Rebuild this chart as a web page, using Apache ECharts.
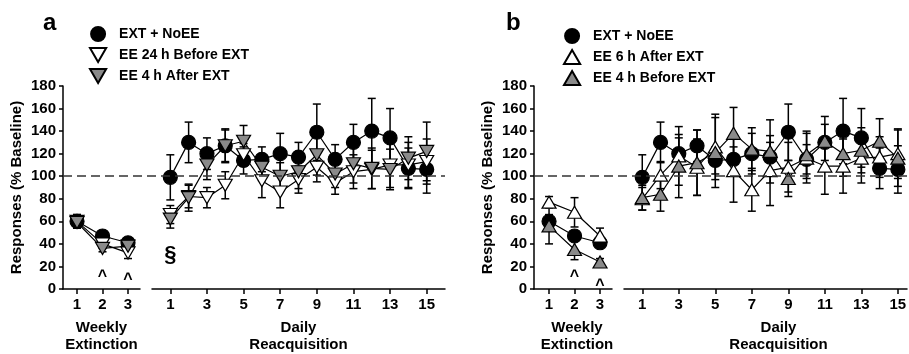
<!DOCTYPE html>
<html lang="en">
<head>
    <meta charset="UTF-8">
    <title>Responses (% Baseline)</title>
    <script src="https://cdn.jsdelivr.net/npm/echarts@6/dist/echarts.min.js"></script>
    <style>
        html, body { margin: 0; padding: 0; background: #fff; }
    </style>
</head>
<body>
    <div id="main" style="width: 909px; height: 354px;"></div>
    <script>
        // x positions
        var weeks = [1, 2, 3];
        var days = [1, 2, 3, 4, 5, 6, 7, 8, 9, 10, 11, 12, 13, 14, 15];
        var weekTicks = [1, 2, 3];
        var dayTicks = [1, 3, 5, 7, 9, 11, 13, 15];

        // EXT + NoEE (same group in both panels)
        var noEEWeekly = [60, 47, 41];
        var noEEWeeklySE = [6, 3, 4];
        var noEEDaily = [99, 130, 120, 127, 114, 115, 120, 117, 139, 115, 130, 140, 134, 107, 106];
        var noEEDailySE = [20, 18, 14, 14, 12, 11, 18, 13, 25, 13, 16, 29, 26, 18, 21];

        // panel a
        var ee24BeforeWeekly = [60, 40, 32];
        var ee24BeforeWeeklySE = [6, 4, 5];
        var ee24BeforeDaily = [66, 82, 81, 92, 119, 96, 86, 97, 108, 94, 104, 106, 110, 110, 113];
        var ee24BeforeDailySE = [8, 10, 9, 12, 10, 15, 14, 12, 13, 10, 15, 17, 20, 20, 20];
        var ee4AfterWeekly = [59, 36, 38];
        var ee4AfterWeeklySE = [5, 3, 4];
        var ee4AfterDaily = [62, 81, 110, 127, 131, 108, 100, 104, 119, 102, 111, 107, 106, 116, 122];
        var ee4AfterDailySE = [8, 12, 13, 15, 14, 12, 12, 15, 18, 12, 17, 18, 18, 19, 26];

        // panel b
        var ee6AfterWeekly = [77, 68, 47];
        var ee6AfterWeeklySE = [5, 13, 7];
        var ee6AfterDaily = [80, 101, 118, 108, 126, 105, 88, 105, 108, 116, 109, 109, 116, 117, 120];
        var ee6AfterDailySE = [10, 12, 26, 25, 29, 28, 19, 31, 22, 22, 25, 24, 22, 18, 22];
        var ee4BeforeWeekly = [56, 35, 24];
        var ee4BeforeWeeklySE = [16, 9, 3];
        var ee4BeforeDaily = [81, 84, 109, 112, 121, 138, 124, 122, 98, 119, 131, 120, 123, 131, 116];
        var ee4BeforeDailySE = [11, 15, 28, 29, 31, 23, 19, 28, 16, 21, 22, 20, 20, 20, 25];

        // significance marks
        var caretWeeks = [2, 3];
        var caretA = [11, 8];
        var caretB = [11, 3];
        var sectionDay = [1];
        var sectionA = [30];

        var baseline = 100;

        var FONT = '"Liberation Sans", Arial, sans-serif';
        var GREY = '#8a8a8a';
        var triDown = 'path://M0,0L10,0L5,8.66Z';
        var triUp = 'path://M5,0L10,8.66L0,8.66Z';

        function pts(xs, ys) {
            return xs.map(function (x, i) { return [x, ys[i]]; });
        }
        function bars(xs, ys, se) {
            return xs.map(function (x, i) { return [x, ys[i] - se[i], ys[i] + se[i]]; });
        }

        function renderErr(params, api) {
            var x = api.value(0);
            var lo = api.coord([x, api.value(1)]);
            var hi = api.coord([x, api.value(2)]);
            var w = 4;
            var st = { stroke: '#000', lineWidth: 1.5 };
            return {
                type: 'group',
                children: [
                    { type: 'line', shape: { x1: lo[0], y1: lo[1], x2: hi[0], y2: hi[1] }, style: st },
                    { type: 'line', shape: { x1: lo[0] - w, y1: lo[1], x2: lo[0] + w, y2: lo[1] }, style: st },
                    { type: 'line', shape: { x1: hi[0] - w, y1: hi[1], x2: hi[0] + w, y2: hi[1] }, style: st }
                ]
            };
        }

        function errSeries(idx, xs, ys, se) {
            return {
                type: 'custom',
                xAxisIndex: idx, yAxisIndex: idx,
                data: bars(xs, ys, se),
                encode: { x: 0, y: [1, 2] },
                renderItem: renderErr,
                silent: true,
                z: 2
            };
        }

        function lineSeries(name, idx, xs, ys, symbol, size, fill) {
            return {
                type: 'line',
                name: name,
                xAxisIndex: idx, yAxisIndex: idx,
                data: pts(xs, ys),
                symbol: symbol,
                symbolSize: size,
                showAllSymbol: true,
                itemStyle: { color: fill, borderColor: '#000', borderWidth: 1.2 },
                lineStyle: { color: '#000', width: 1.2 },
                emphasis: { disabled: true },
                z: 3
            };
        }

        // text marks placed through the axes
        function markSeries(idx, xs, ys, text, size) {
            return {
                type: 'custom',
                xAxisIndex: idx, yAxisIndex: idx,
                data: pts(xs, ys),
                encode: { x: 0, y: 1 },
                renderItem: function (params, api) {
                    var p = api.coord([api.value(0), api.value(1)]);
                    return {
                        type: 'text',
                        x: p[0], y: p[1],
                        style: {
                            text: text, fill: '#000', font: 'bold ' + size + 'px ' + FONT,
                            align: 'center', verticalAlign: 'middle'
                        }
                    };
                },
                silent: true,
                z: 4
            };
        }

        function baselineSeries(idx) {
            return {
                type: 'line',
                xAxisIndex: idx, yAxisIndex: idx,
                data: [],
                markLine: {
                    silent: true,
                    symbol: 'none',
                    label: { show: false },
                    lineStyle: { color: '#333', width: 1.5, type: [9, 5] },
                    data: [{ yAxis: baseline }]
                },
                z: 1
            };
        }

        var gridTop = 86, gridH = 203;
        function grid(left, width) {
            return { left: left, width: width, top: gridTop, height: gridH, outerBoundsMode: 'none', containLabel: false };
        }
        var grids = [
            grid(63, 77),   // a weekly
            grid(152, 293), // a daily
            grid(63, 382),  // a baseline
            grid(534, 78),  // b weekly
            grid(624, 283), // b daily
            grid(534, 373)  // b baseline
        ];

        var axisLine = { show: true, lineStyle: { color: '#000', width: 1.5 } };
        var labelStyle = { color: '#000', fontSize: 15, fontWeight: 'bold', fontFamily: FONT };
        var nameStyle = { color: '#000', fontSize: 15, fontWeight: 'bold', fontFamily: FONT, lineHeight: 17 };

        function xAxisVisible(idx, min, max, ticks, name, pad) {
            return {
                type: 'value', gridIndex: idx, min: min, max: max,
                axisLine: axisLine,
                axisTick: { show: true, length: 5, customValues: ticks, lineStyle: { color: '#000', width: 1.5 } },
                axisLabel: Object.assign({ margin: 8, customValues: ticks }, labelStyle),
                splitLine: { show: false },
                name: name, nameLocation: 'middle', nameGap: 30,
                nameTextStyle: Object.assign({ padding: pad || 0 }, nameStyle)
            };
        }
        function hiddenX(idx) {
            return { type: 'value', gridIndex: idx, min: 0, max: 1, show: false };
        }
        function yAxisVisible(idx) {
            return {
                type: 'value', gridIndex: idx, min: 0, max: 180, interval: 20,
                axisLine: axisLine,
                axisTick: { show: true, length: 4, lineStyle: { color: '#000', width: 1.5 } },
                axisLabel: Object.assign({ margin: 7 }, labelStyle),
                splitLine: { show: false },
                name: 'Responses (% Baseline)', nameLocation: 'middle', nameGap: 38,
                nameTextStyle: nameStyle
            };
        }
        function hiddenY(idx) {
            return { type: 'value', gridIndex: idx, min: 0, max: 180, show: false };
        }

        var legendStyle = { color: '#000', fontSize: 14, fontWeight: 'bold', fontFamily: FONT };

        var myChart = echarts.init(document.getElementById('main'), null, { renderer: 'canvas' });
        var option = {
            animation: false,
            backgroundColor: '#fff',
            title: [
                { text: 'a', left: 38, top: 6, textStyle: { fontSize: 24, fontWeight: 'bold', fontFamily: FONT, color: '#000' } },
                { text: 'b', left: 501, top: 6, textStyle: { fontSize: 24, fontWeight: 'bold', fontFamily: FONT, color: '#000' } }
            ],
            legend: [
                {
                    left: 89, top: 26, orient: 'vertical', itemWidth: 32, itemHeight: 14, itemGap: 5,
                    padding: 0, selectedMode: false, textStyle: legendStyle,
                    data: [
                        { name: 'EXT + NoEE', icon: 'circle' },
                        { name: 'EE 24 h Before EXT', icon: triDown },
                        { name: 'EE 4 h After EXT', icon: triDown }
                    ]
                },
                {
                    left: 563, top: 28, orient: 'vertical', itemWidth: 32, itemHeight: 14, itemGap: 5,
                    padding: 0, selectedMode: false, textStyle: legendStyle,
                    data: [
                        { name: 'EXT + NoEE', icon: 'circle' },
                        { name: 'EE 6 h After EXT', icon: triUp },
                        { name: 'EE 4 h Before EXT', icon: triUp }
                    ]
                }
            ],
            grid: grids,
            xAxis: [
                xAxisVisible(0, 0.45, 3.47, weekTicks, 'Weekly\nExtinction'),
                xAxisVisible(1, 0, 16, dayTicks, 'Daily\nReacquisition'),
                hiddenX(2),
                xAxisVisible(3, 0.41, 3.47, weekTicks, 'Weekly\nExtinction', [0, 0, 0, 8]),
                xAxisVisible(4, 0, 15.5, dayTicks, 'Daily\nReacquisition', [0, 0, 0, 26]),
                hiddenX(5)
            ],
            yAxis: [
                yAxisVisible(0), hiddenY(1), hiddenY(2),
                yAxisVisible(3), hiddenY(4), hiddenY(5)
            ],
            series: [
                baselineSeries(2),
                baselineSeries(5),

                // panel a error bars
                errSeries(0, weeks, noEEWeekly, noEEWeeklySE),
                errSeries(0, weeks, ee24BeforeWeekly, ee24BeforeWeeklySE),
                errSeries(0, weeks, ee4AfterWeekly, ee4AfterWeeklySE),
                errSeries(1, days, noEEDaily, noEEDailySE),
                errSeries(1, days, ee24BeforeDaily, ee24BeforeDailySE),
                errSeries(1, days, ee4AfterDaily, ee4AfterDailySE),

                // panel a points
                lineSeries('EXT + NoEE', 0, weeks, noEEWeekly, 'circle', 14, '#000'),
                lineSeries('EE 24 h Before EXT', 0, weeks, ee24BeforeWeekly, triDown, [14, 12], '#fff'),
                lineSeries('EE 4 h After EXT', 0, weeks, ee4AfterWeekly, triDown, [14, 12], GREY),
                lineSeries('EXT + NoEE', 1, days, noEEDaily, 'circle', 14, '#000'),
                lineSeries('EE 24 h Before EXT', 1, days, ee24BeforeDaily, triDown, [14, 12], '#fff'),
                lineSeries('EE 4 h After EXT', 1, days, ee4AfterDaily, triDown, [14, 12], GREY),

                // panel b error bars
                errSeries(3, weeks, noEEWeekly, noEEWeeklySE),
                errSeries(3, weeks, ee6AfterWeekly, ee6AfterWeeklySE),
                errSeries(3, weeks, ee4BeforeWeekly, ee4BeforeWeeklySE),
                errSeries(4, days, noEEDaily, noEEDailySE),
                errSeries(4, days, ee6AfterDaily, ee6AfterDailySE),
                errSeries(4, days, ee4BeforeDaily, ee4BeforeDailySE),

                // panel b points
                lineSeries('EXT + NoEE', 3, weeks, noEEWeekly, 'circle', 14, '#000'),
                lineSeries('EE 6 h After EXT', 3, weeks, ee6AfterWeekly, triUp, [14, 12], '#fff'),
                lineSeries('EE 4 h Before EXT', 3, weeks, ee4BeforeWeekly, triUp, [14, 12], GREY),
                lineSeries('EXT + NoEE', 4, days, noEEDaily, 'circle', 14, '#000'),
                lineSeries('EE 6 h After EXT', 4, days, ee6AfterDaily, triUp, [14, 12], '#fff'),
                lineSeries('EE 4 h Before EXT', 4, days, ee4BeforeDaily, triUp, [14, 12], GREY),

                // significance marks
                markSeries(0, caretWeeks, caretA, '^', 16),
                markSeries(1, sectionDay, sectionA, '§', 22),
                markSeries(3, caretWeeks, caretB, '^', 16)
            ]
        };
        myChart.setOption(option);
    </script>
</body>
</html>
